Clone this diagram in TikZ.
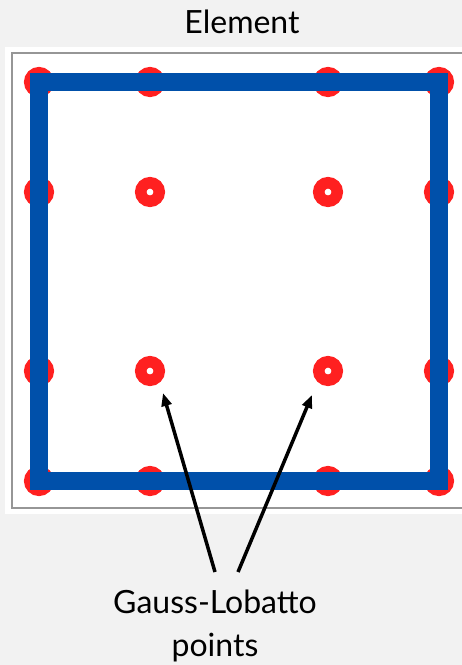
\documentclass[tikz,border=0pt]{standalone}
\usepackage{fontspec}
\setmainfont{Lato}
\usetikzlibrary{arrows.meta,positioning}
\definecolor{pagebg}{RGB}{242,242,242}
\definecolor{frame}{RGB}{150,150,150}
\definecolor{edge}{RGB}{0,80,170}
\definecolor{gllred}{RGB}{255,32,32}
\tikzset{
  gll/.style={circle, draw=gllred, fill=white, line width=11.5pt,
              minimum size=18.5pt, inner sep=0pt},
  ptr/.style={-{Triangle[length=13pt,width=10pt]}, line width=3.5pt, black}
}

\begin{document}
\begin{tikzpicture}[x=1pt, y=-1pt]
  \useasboundingbox[fill=pagebg] (0,0) rectangle (462,665);
  % element panel
  \fill[white] (5,47) rectangle (462,514);
  \draw[frame, line width=1.5pt] (462,53) -- (12,53) -- (12,508) -- (462,508);
  \node[font=\fontsize{32}{38}\selectfont, anchor=base] (title) at (242,33) {Element};
  % Gauss-Lobatto-Legendre nodes
  \foreach \x [count=\i] in {39,150,328,439}
    \foreach \y [count=\j] in {82,192,371,481}
      \node[gll] (p\i\j) at (\x,\y) {};
  \draw[edge, line width=18pt] (p11.center) rectangle (p44.center);
  % label and arrows
  \node[font=\fontsize{32}{43}\selectfont, align=center, inner sep=0pt,
        anchor=north] (lbl) at (215,590) {Gauss-Lobatto\\points};
  \coordinate (tipA) at (163,393);
  \coordinate (tipB) at (312,395);
  \draw[ptr] ([yshift=18pt]lbl.north) -- (tipA);
  \draw[ptr] ([xshift=23pt,yshift=18pt]lbl.north) -- (tipB);
\end{tikzpicture}
\end{document}
